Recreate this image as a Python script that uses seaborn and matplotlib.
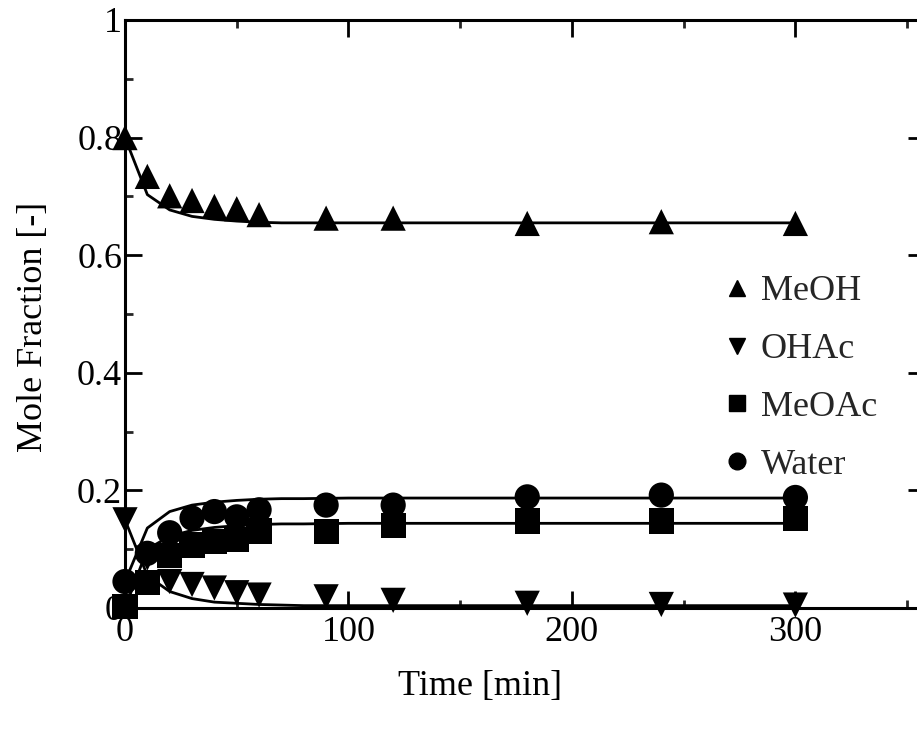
import matplotlib
matplotlib.use("Agg")
import matplotlib.pyplot as plt
from matplotlib.lines import Line2D
from matplotlib.ticker import MultipleLocator, FixedFormatter, FixedLocator
import seaborn as sns
import pandas as pd

# experimental data
t_exp = [0, 10, 20, 30, 40, 50, 60, 90, 120, 180, 240, 300]
meoh_exp = [0.800, 0.734, 0.701, 0.693, 0.683, 0.679, 0.669, 0.663, 0.663, 0.654, 0.657, 0.654]
ohac_exp = [0.150, 0.085, 0.045, 0.040, 0.034, 0.026, 0.022, 0.019, 0.013, 0.008, 0.006, 0.005]
meoac_exp = [0.003, 0.043, 0.089, 0.107, 0.113, 0.117, 0.131, 0.130, 0.140, 0.148, 0.148, 0.152]
water_exp = [0.045, 0.093, 0.128, 0.153, 0.164, 0.155, 0.167, 0.175, 0.175, 0.189, 0.192, 0.188]

# model curves
t_mod = [0, 10, 20, 30, 40, 50, 60, 70, 80, 100, 150, 200, 250, 300]
meoh_mod = [0.800, 0.703, 0.677, 0.666, 0.661, 0.658, 0.656, 0.655, 0.655, 0.655, 0.655, 0.655, 0.655, 0.655]
ohac_mod = [0.150, 0.055, 0.028, 0.016, 0.010, 0.008, 0.006, 0.005, 0.004, 0.004, 0.004, 0.004, 0.004, 0.004]
meoac_mod = [0.000, 0.100, 0.122, 0.132, 0.137, 0.140, 0.142, 0.143, 0.143, 0.144, 0.144, 0.144, 0.144, 0.144]
water_mod = [0.045, 0.136, 0.164, 0.175, 0.180, 0.183, 0.185, 0.186, 0.186, 0.187, 0.187, 0.187, 0.187, 0.187]

species = ["MeOH", "OHAc", "MeOAc", "Water"]
markers = {"MeOH": "^", "OHAc": "v", "MeOAc": "s", "Water": "o"}

x_ticks = [0, 100, 200, 300]
y_ticks = [0, 0.2, 0.4, 0.6, 0.8, 1.0]
y_ticklabels = ["0", "0.2", "0.4", "0.6", "0.8", "1"]

exp_df = pd.DataFrame({
    "t": t_exp * 4,
    "x": meoh_exp + ohac_exp + meoac_exp + water_exp,
    "sp": sum([[s] * len(t_exp) for s in species], []),
})
mod_df = pd.DataFrame({
    "t": t_mod * 4,
    "x": meoh_mod + ohac_mod + meoac_mod + water_mod,
    "sp": sum([[s] * len(t_mod) for s in species], []),
})

sns.set_style("white")
plt.rcParams["font.family"] = ["Liberation Serif", "DejaVu Serif"]

fig = plt.figure(figsize=(9.17, 7.30), dpi=100)
ax = fig.add_axes([125 / 917, 122 / 730, 800 / 917, 588 / 730])

sns.lineplot(data=mod_df, x="t", y="x", units="sp", estimator=None,
             color="black", linewidth=2.0, ax=ax, legend=False, sort=False)
sns.scatterplot(data=exp_df, x="t", y="x", style="sp", markers=markers,
                style_order=species, color="black", s=330, edgecolor="black",
                linewidth=0, ax=ax, legend=False, zorder=3, clip_on=False)

ax.set_xlim(0, 358)
ax.set_ylim(0, 1)
ax.xaxis.set_major_locator(FixedLocator(x_ticks))
ax.xaxis.set_minor_locator(MultipleLocator(50))
ax.yaxis.set_major_locator(FixedLocator(y_ticks))
ax.yaxis.set_major_formatter(FixedFormatter(y_ticklabels))
ax.yaxis.set_minor_locator(MultipleLocator(0.1))

for sp in ax.spines.values():
    sp.set_linewidth(2.2)
    sp.set_color("black")
    sp.set_visible(True)

ax.tick_params(which="major", direction="in", length=12, width=2.0,
               top=True, right=True, bottom=True, left=True,
               labelsize=26, pad=4, colors="black")
ax.tick_params(which="minor", direction="in", length=6, width=2.0,
               top=True, right=True, bottom=True, left=True)
ax.tick_params(axis="y", pad=2)
ax.tick_params(axis="x", pad=6)

ax.set_xlabel("Time [min]", fontsize=26, color="black")
ax.set_ylabel("Mole Fraction [-]", fontsize=26, color="black")
ax.xaxis.set_label_coords(0.444, -0.105)
ax.yaxis.set_label_coords(-0.094, 0.478)

handles = [Line2D([], [], linestyle="none", marker=markers[s], color="black",
                  markersize=12) for s in species]
ax.legend(handles, species, loc="upper left", bbox_to_anchor=(0.752, 0.566),
          frameon=False, fontsize=26, handlelength=0.6, handletextpad=0.35,
          labelspacing=0.68, borderpad=0, borderaxespad=0)

fig.savefig("out.png", dpi=100)
